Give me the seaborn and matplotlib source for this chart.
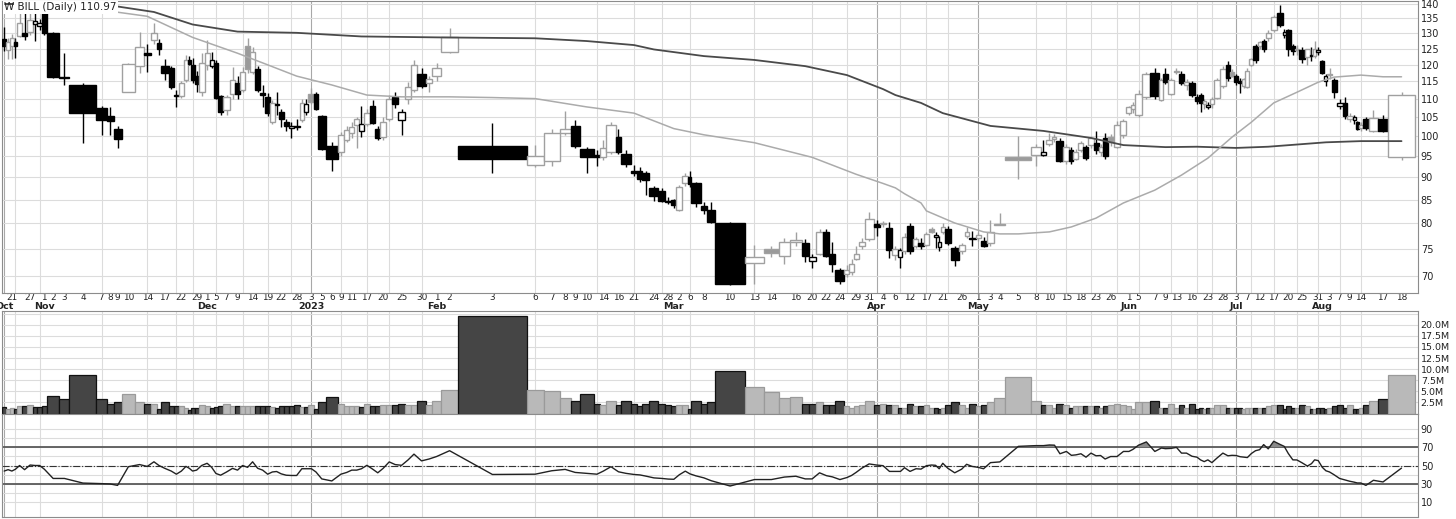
import numpy as np
import pandas as pd
import matplotlib
matplotlib.use("Agg")
import matplotlib.pyplot as plt
from matplotlib.ticker import FixedLocator, NullLocator, FixedFormatter
import seaborn as sns

# trading days on the chart
oct22 = [19, 20, 21, 24, 25, 26, 27, 28, 31]
nov22 = [1, 2, 3, 4, 7, 8, 9, 10, 11, 14, 15, 16, 17, 18, 21, 22, 23, 25, 28, 29, 30]
dec22 = [1, 2, 5, 6, 7, 8, 9, 12, 13, 14, 15, 16, 19, 20, 21, 22, 23, 27, 28, 29, 30]
jan23 = [3, 4, 5, 6, 9, 10, 11, 12, 13, 17, 18, 19, 20, 23, 24, 25, 26, 27, 30, 31]
feb23 = [1, 2, 3, 6, 7, 8, 9, 10, 13, 14, 15, 16, 17, 21, 22, 23, 24, 27, 28]
mar23 = [1, 2, 3, 6, 7, 8, 9, 10, 13, 14, 15, 16, 17, 20, 21, 22, 23, 24, 27, 28, 29, 30, 31]
apr23 = [3, 4, 5, 6, 10, 11, 12, 13, 14, 17, 18, 19, 20, 21, 24, 25, 26, 27, 28]
may23 = [1, 2, 3, 4, 5, 8, 9, 10, 11, 12, 15, 16, 17, 18, 19, 22, 23, 24, 25, 26, 30, 31]
jun23 = [1, 2, 5, 6, 7, 8, 9, 12, 13, 14, 15, 16, 20, 21, 22, 23, 26, 27, 28, 29, 30]
jul23 = [3, 5, 6, 7, 10, 11, 12, 13, 14, 17, 18, 19, 20, 21, 24, 25, 26, 27, 28, 31]
aug23 = [1, 2, 3, 4, 7, 8, 9, 10, 11, 14, 15, 16, 17, 18]

opens = [128.0, 124.5, 125.9, 127.2, 129.0, 130.1, 130.5, 132.9, 132.4, 138.0,
         130.1, 116.2, 113.9, 107.5, 105.3, 101.9, 112.0, 119.5, 123.5, 127.7,
         126.7, 119.6, 118.9, 111.1, 110.8, 115.4, 121.4, 119.9, 116.4, 112.0,
         119.9, 119.6, 120.5, 110.8, 106.9, 111.4, 114.4, 112.5, 125.7, 117.7,
         118.6, 111.6, 110.5, 103.7, 108.3, 106.4, 103.7, 102.0, 102.5, 104.2,
         106.3, 111.3, 111.3, 105.1, 97.6, 96.1, 99.1, 100.8, 102.9, 101.3,
         103.2, 108.0, 101.9, 99.8, 104.5, 110.5, 104.2, 110.0, 112.5, 117.1,
         114.4, 116.4, 123.9, 97.6, 92.8, 93.7, 100.8, 102.6, 96.8, 95.2,
         94.9, 96.1, 99.8, 95.6, 91.5, 91.4, 90.9, 87.5, 86.9, 84.8,
         84.9, 82.9, 88.6, 90.0, 88.6, 83.6, 82.9, 80.0, 72.4, 74.9,
         73.7, 76.4, 76.2, 72.7, 74.1, 78.3, 74.1, 71.0, 70.3, 70.6,
         73.0, 75.6, 76.8, 79.8, 80.1, 79.0, 73.9, 73.5, 74.5, 79.4,
         75.6, 76.2, 75.8, 78.8, 77.2, 75.3, 78.2, 78.8, 75.1, 74.5,
         77.5, 77.0, 77.0, 76.6, 76.2, 79.7, 94.9, 95.3, 95.3, 98.1,
         99.2, 98.8, 93.9, 96.6, 94.4, 96.6, 97.3, 97.7, 98.3, 95.9,
         99.6, 99.8, 97.3, 100.3, 106.1, 107.0, 105.6, 110.5, 117.5, 109.7,
         117.1, 111.3, 117.8, 117.1, 114.0, 114.4, 110.5, 111.1, 108.5, 107.8,
         108.5, 110.2, 113.6, 119.9, 117.7, 116.5, 115.2, 113.5, 113.3, 119.9,
         125.7, 125.8, 127.3, 128.3, 131.0, 136.9, 129.4, 131.0, 125.8, 124.5,
         124.5, 122.3, 123.0, 122.5, 123.8, 121.0, 115.1, 117.2, 115.4, 108.0,
         108.9, 104.5, 104.2, 103.6, 102.0, 104.5, 101.4, 104.3, 94.7]
highs = [132.0, 128.3, 129.7, 128.5, 137.9, 137.9, 137.0, 137.0, 134.6, 140.0,
         130.5, 123.5, 114.5, 108.0, 107.7, 102.6, 120.5, 130.4, 126.4, 133.3,
         128.0, 121.7, 119.5, 112.5, 115.0, 123.0, 122.5, 122.0, 118.0, 123.5,
         127.7, 123.9, 121.5, 111.0, 111.0, 119.3, 116.5, 119.3, 128.3, 125.5,
         119.5, 113.8, 111.5, 109.5, 112.0, 107.0, 104.5, 103.5, 104.5, 109.9,
         110.0, 113.0, 112.0, 105.5, 98.6, 101.0, 102.5, 103.5, 105.0, 108.0,
         107.0, 109.7, 102.5, 105.0, 111.1, 111.8, 107.0, 114.8, 121.4, 119.0,
         116.5, 120.6, 131.8, 103.4, 97.8, 101.9, 106.6, 104.2, 97.3, 96.5,
         99.0, 103.5, 101.9, 96.5, 92.8, 92.3, 91.5, 88.0, 87.5, 85.5,
         85.2, 88.2, 90.9, 91.5, 89.0, 84.4, 84.4, 80.4, 75.8, 75.5,
         77.0, 78.2, 76.8, 74.0, 78.8, 78.8, 76.4, 71.5, 72.0, 73.0,
         75.5, 77.0, 82.3, 80.8, 80.5, 80.2, 75.5, 75.2, 78.0, 80.0,
         77.2, 77.0, 78.3, 79.2, 78.2, 77.5, 80.0, 79.5, 75.6, 76.2,
         79.3, 78.5, 78.2, 77.3, 80.8, 82.2, 100.0, 98.0, 99.1, 100.8,
         100.5, 99.5, 98.0, 97.2, 96.8, 98.8, 97.8, 100.0, 101.3, 98.0,
         100.8, 100.5, 104.0, 104.5, 108.0, 109.0, 112.5, 117.7, 118.8, 116.0,
         119.0, 116.0, 119.0, 118.0, 115.5, 115.2, 111.2, 111.5, 109.8, 109.0,
         110.5, 116.0, 119.5, 121.0, 118.5, 117.2, 116.0, 116.0, 119.0, 122.0,
         126.5, 127.5, 128.0, 131.0, 136.0, 139.8, 131.5, 131.5, 126.5, 126.0,
         125.5, 125.0, 125.5, 127.5, 125.5, 121.5, 117.0, 119.0, 116.0, 110.0,
         110.5, 106.0, 105.5, 104.0, 103.5, 105.0, 106.8, 105.5, 111.9]
lows = [124.3, 121.6, 121.6, 121.9, 128.8, 127.8, 129.5, 127.3, 131.0, 129.5,
        115.8, 113.9, 98.3, 100.3, 100.3, 97.1, 112.0, 117.4, 117.7, 126.5,
        122.9, 115.4, 112.8, 107.6, 110.3, 114.9, 119.8, 114.5, 111.8, 110.8,
        118.3, 118.8, 110.0, 105.6, 105.6, 110.0, 110.0, 112.0, 117.5, 117.0,
        112.0, 107.6, 105.3, 103.0, 105.6, 102.4, 101.4, 99.6, 101.5, 103.5,
        105.5, 108.5, 106.8, 96.5, 91.5, 95.0, 98.5, 99.5, 97.0, 99.8,
        102.5, 103.0, 99.0, 99.0, 104.0, 107.5, 100.3, 108.5, 112.0, 113.0,
        111.8, 115.0, 123.5, 90.9, 92.3, 92.6, 100.3, 97.0, 91.1, 92.6,
        94.0, 95.5, 95.5, 92.5, 90.3, 89.0, 86.1, 84.8, 84.5, 84.0,
        83.2, 82.5, 88.0, 87.8, 83.4, 81.9, 80.0, 68.4, 68.6, 73.5,
        72.1, 75.5, 72.6, 71.4, 73.8, 73.5, 70.6, 68.6, 69.8, 70.2,
        72.8, 75.0, 76.5, 77.4, 79.3, 73.2, 72.8, 71.5, 74.0, 74.0,
        75.2, 75.0, 75.5, 78.0, 75.2, 74.5, 77.8, 75.8, 71.7, 74.0,
        77.0, 75.6, 76.5, 75.3, 75.6, 79.6, 89.5, 92.6, 95.0, 97.5,
        98.5, 93.5, 93.0, 93.0, 94.0, 96.0, 94.0, 97.0, 95.5, 95.0,
        94.2, 97.5, 97.0, 99.5, 105.5, 106.0, 105.0, 110.0, 110.0, 109.3,
        114.3, 111.0, 117.0, 113.8, 112.5, 110.5, 108.5, 106.3, 107.0, 107.0,
        107.5, 110.0, 113.0, 115.2, 116.2, 114.0, 111.5, 113.0, 113.0, 119.5,
        120.5, 124.8, 124.0, 127.5, 130.5, 132.0, 128.5, 122.5, 123.0, 123.0,
        120.5, 119.8, 121.0, 122.0, 123.0, 117.0, 113.5, 115.5, 110.2, 107.0,
        104.5, 103.5, 103.0, 101.5, 101.2, 101.5, 101.0, 101.0, 94.0]
closes = [125.8, 127.0, 128.3, 125.9, 133.3, 128.9, 134.4, 134.0, 133.4, 130.1,
          116.3, 115.8, 106.1, 104.2, 104.0, 99.3, 120.2, 125.5, 123.0, 130.1,
          124.8, 117.4, 113.4, 110.8, 114.4, 121.4, 120.3, 115.4, 114.2, 120.5,
          123.5, 121.4, 110.3, 106.3, 110.5, 115.4, 111.4, 117.7, 118.6, 123.9,
          112.5, 111.1, 106.1, 108.9, 108.6, 104.5, 102.6, 102.5, 102.4, 108.9,
          108.5, 109.0, 107.2, 96.8, 94.4, 100.3, 101.6, 102.4, 104.5, 103.2,
          106.1, 103.4, 99.6, 103.7, 110.0, 108.6, 106.4, 113.3, 119.9, 113.6,
          115.6, 119.0, 128.7, 94.2, 95.1, 100.8, 101.9, 97.6, 94.9, 94.8,
          97.1, 102.9, 96.1, 93.0, 91.0, 89.7, 89.4, 85.7, 84.8, 84.5,
          83.9, 87.8, 90.2, 88.5, 84.2, 82.7, 80.2, 68.6, 73.5, 74.2,
          76.4, 76.7, 73.7, 73.5, 78.3, 73.7, 72.1, 69.1, 71.0, 72.1,
          74.1, 76.4, 81.0, 79.3, 79.8, 74.8, 74.9, 74.7, 77.2, 74.6,
          76.8, 75.6, 77.8, 78.3, 77.7, 76.4, 79.2, 76.2, 72.8, 75.8,
          78.2, 76.8, 77.6, 75.6, 78.2, 79.9, 94.0, 97.3, 96.1, 99.1,
          99.8, 93.7, 97.3, 93.9, 96.1, 98.3, 94.6, 99.5, 96.4, 97.3,
          95.1, 98.4, 102.9, 103.8, 107.7, 108.2, 111.3, 117.1, 110.6, 115.4,
          114.9, 115.4, 118.0, 114.4, 114.8, 111.1, 109.2, 108.9, 109.3, 108.3,
          110.0, 115.4, 118.6, 115.8, 116.5, 114.9, 114.6, 115.5, 118.0, 121.8,
          121.5, 127.0, 124.8, 130.1, 135.4, 132.7, 130.4, 124.8, 124.2, 125.0,
          121.7, 124.9, 122.5, 125.0, 124.6, 117.4, 116.5, 116.7, 112.0, 108.9,
          105.1, 105.3, 105.0, 101.9, 102.8, 102.0, 104.6, 101.4, 110.97]
volume_m = [1.4, 1.1, 1.3, 1.0, 1.6, 1.6, 1.9, 1.4, 1.4, 1.6,
            4.0, 3.2, 8.6, 3.3, 2.2, 2.5, 4.4, 2.7, 2.2, 2.1,
            1.1, 2.5, 1.7, 1.6, 1.6, 1.3, 0.8, 1.3, 1.3, 1.9,
            1.6, 1.3, 1.4, 1.6, 2.2, 1.6, 1.6, 1.6, 1.6, 1.6,
            1.6, 1.6, 1.6, 1.4, 1.3, 1.6, 1.6, 1.6, 1.9, 1.4,
            1.4, 1.9, 1.0, 2.7, 3.7, 2.1, 1.6, 1.6, 1.6, 1.4,
            2.1, 1.6, 1.6, 1.9, 1.9, 1.9, 2.2, 1.9, 1.9, 2.9,
            1.9, 2.9, 5.4, 21.9, 5.4, 5.1, 3.5, 2.9, 4.4, 2.2,
            1.9, 2.9, 1.9, 2.9, 2.2, 1.6, 2.2, 2.9, 2.2, 1.9,
            1.6, 1.9, 1.9, 1.0, 2.9, 2.2, 2.5, 9.5, 6.0, 4.8,
            3.5, 3.8, 2.2, 2.2, 2.5, 1.9, 1.9, 2.9, 1.6, 1.3,
            1.6, 1.9, 2.9, 1.9, 2.2, 1.9, 1.9, 1.3, 1.3, 2.2,
            1.6, 1.6, 1.9, 1.3, 1.3, 1.0, 1.3, 1.9, 2.5, 1.9,
            1.3, 2.2, 1.6, 1.9, 2.5, 3.5, 8.3, 2.9, 1.9, 1.9,
            1.3, 2.2, 1.9, 1.3, 1.6, 1.6, 1.6, 1.6, 1.6, 1.3,
            1.6, 1.9, 2.2, 1.9, 1.6, 1.0, 2.5, 2.5, 2.9, 1.3,
            1.3, 2.2, 1.3, 1.9, 1.3, 2.2, 1.0, 1.3, 1.0, 1.3,
            1.3, 1.9, 1.9, 1.3, 1.3, 1.3, 1.3, 1.0, 1.3, 1.3,
            1.3, 1.3, 1.3, 1.6, 1.9, 1.9, 1.0, 1.6, 1.3, 1.3,
            1.9, 1.6, 1.0, 1.0, 1.3, 1.3, 1.0, 1.3, 1.6, 1.9,
            1.3, 1.9, 1.0, 1.0, 1.3, 1.9, 2.9, 3.2, 8.6]
rsi14 = [44, 45.5, 44, 46, 50, 45.5, 50.5, 50, 50, 46,
         36, 36, 31, 30.4, 30, 28.5, 48.7, 51, 49, 54,
         50, 47, 44, 40.6, 44, 49, 47, 44, 45, 50,
         52.4, 48, 41.4, 39.5, 43, 46.9, 45, 50, 48, 54,
         47, 45, 40.6, 43, 43.5, 41, 39.5, 39.2, 39.2, 46.5,
         46.5, 46.5, 43, 35.5, 33.3, 40.6, 42.5, 45, 45, 46.5,
         50.2, 46, 42.1, 47, 53.9, 51, 50.2, 56, 62.3, 55,
         57, 59.7, 66, 40.3, 40.6, 44.3, 45.8, 42.5, 41.5, 40.6,
         44, 48.7, 43.2, 41.5, 40.3, 39.8, 38.5, 36.6, 36, 35.3,
         35.1, 40, 43.9, 41, 38.8, 36.6, 33.5, 27.8, 34.8, 34.8,
         37.5, 38.4, 35.5, 35.5, 42.1, 39, 37.7, 34.8, 37, 39.2,
         42.5, 46.9, 51.7, 50.5, 49.8, 43.6, 43.6, 43.6, 47.6, 43.6,
         46.5, 46.1, 49.8, 50.5, 50.2, 46.5, 52.4, 47, 42.1, 46,
         51.3, 49, 48, 46.5, 53.1, 53.9, 70.7, 71.5, 71.5, 72.2,
         72, 62.7, 65.2, 61, 61.5, 62.7, 59, 63.4, 60.5, 60.8,
         57, 59.7, 59.7, 65.2, 65.2, 67.5, 72, 75.5, 65.2, 68.9,
         68.2, 68.5, 69.6, 63.4, 63.4, 60, 59, 56, 54.2, 56.1,
         53.1, 58, 63.4, 60.5, 61, 60.8, 59.5, 59, 58.6, 63,
         66, 67.1, 72.6, 68, 76.2, 73, 70.7, 63, 56.1, 56,
         53, 49.4, 52, 56.1, 55.3, 48, 44.3, 43, 40, 36,
         34.5, 33, 32, 31.1, 31.1, 28.5, 34, 32.2, 47.2]

# moving averages, read at a few dates
ma_long_dates = ["2022-11-07", "2022-11-15", "2022-11-28", "2022-12-09", "2022-12-28",
                 "2023-01-13", "2023-02-01", "2023-02-06", "2023-02-10", "2023-02-21",
                 "2023-02-24", "2023-03-08", "2023-03-13", "2023-03-17", "2023-03-27",
                 "2023-04-04", "2023-04-06", "2023-04-14", "2023-04-21", "2023-05-03",
                 "2023-05-09", "2023-05-22", "2023-05-31", "2023-06-09", "2023-06-20",
                 "2023-07-03", "2023-07-14", "2023-08-02", "2023-08-14", "2023-08-18"]
ma_long_vals = [140.0, 137.2, 132.9, 130.5, 130.1, 128.9, 128.6, 128.3, 127.4, 126.1,
                124.7, 122.6, 121.4, 119.5, 116.8, 112.7, 111.0, 108.8, 106.0, 102.6,
                101.3, 99.5, 97.7, 97.2, 97.3, 97.0, 97.3, 98.4, 98.7, 98.7]
ma_short_dates = ["2022-11-07", "2022-11-14", "2022-11-28", "2022-12-09", "2022-12-19",
                  "2022-12-28", "2023-01-06", "2023-01-17", "2023-01-25", "2023-01-31",
                  "2023-02-02", "2023-02-03", "2023-02-06", "2023-02-10", "2023-02-21",
                  "2023-03-01", "2023-03-08", "2023-03-13", "2023-03-20", "2023-03-29",
                  "2023-04-04", "2023-04-06", "2023-04-11", "2023-04-14", "2023-04-17",
                  "2023-04-25", "2023-05-02", "2023-05-04", "2023-05-05", "2023-05-10",
                  "2023-05-16", "2023-05-23", "2023-05-31", "2023-06-07", "2023-06-14",
                  "2023-06-23", "2023-06-30", "2023-07-10", "2023-07-17", "2023-07-24",
                  "2023-07-31", "2023-08-04", "2023-08-14", "2023-08-17", "2023-08-18"]
ma_short_vals = [137.9, 135.7, 128.6, 123.5, 119.9, 116.5, 113.9, 111.0, 110.5, 110.5,
                 110.5, 110.3, 110.0, 107.7, 106.0, 101.9, 100.3, 98.3, 94.7, 90.7,
                 88.6, 87.6, 86.3, 84.3, 82.6, 80.1, 78.3, 77.9, 77.9, 78.3,
                 79.3, 81.1, 84.3, 87.1, 90.5, 94.5, 99.7, 103.6, 108.8, 111.8,
                 114.7, 116.2, 116.8, 116.3, 116.3]

# dates that carry a day label under the price panel
tick_dates = ["2022-10-21", "2022-10-27", "2022-11-01", "2022-11-02", "2022-11-03", "2022-11-04",
              "2022-11-07", "2022-11-08", "2022-11-09", "2022-11-10", "2022-11-14", "2022-11-17",
              "2022-11-22", "2022-11-29", "2022-12-01", "2022-12-05", "2022-12-07", "2022-12-09",
              "2022-12-14", "2022-12-19", "2022-12-22", "2022-12-28", "2023-01-03", "2023-01-05",
              "2023-01-06", "2023-01-09", "2023-01-11", "2023-01-17", "2023-01-20", "2023-01-25",
              "2023-01-30", "2023-02-01", "2023-02-02", "2023-02-03", "2023-02-06", "2023-02-07",
              "2023-02-08", "2023-02-09", "2023-02-10", "2023-02-14", "2023-02-16", "2023-02-21",
              "2023-02-24", "2023-02-28", "2023-03-02", "2023-03-06", "2023-03-08", "2023-03-10",
              "2023-03-13", "2023-03-14", "2023-03-16", "2023-03-20", "2023-03-22", "2023-03-24",
              "2023-03-29", "2023-03-31", "2023-04-04", "2023-04-06", "2023-04-12", "2023-04-17",
              "2023-04-21", "2023-04-26", "2023-05-01", "2023-05-03", "2023-05-04", "2023-05-05",
              "2023-05-08", "2023-05-10", "2023-05-15", "2023-05-18", "2023-05-23", "2023-05-26",
              "2023-06-01", "2023-06-05", "2023-06-07", "2023-06-09", "2023-06-13", "2023-06-16",
              "2023-06-23", "2023-06-28", "2023-07-03", "2023-07-07", "2023-07-12", "2023-07-17",
              "2023-07-20", "2023-07-25", "2023-07-31", "2023-08-03", "2023-08-07", "2023-08-09",
              "2023-08-14", "2023-08-17", "2023-08-18"]
month_names = {10: "Oct", 11: "Nov", 12: "Dec", 1: "2023", 2: "Feb", 3: "Mar",
               4: "Apr", 5: "May", 6: "Jun", 7: "Jul", 8: "Aug"}

# ---- assemble
month_days = [(2022, 10, oct22), (2022, 11, nov22), (2022, 12, dec22), (2023, 1, jan23),
              (2023, 2, feb23), (2023, 3, mar23), (2023, 4, apr23), (2023, 5, may23),
              (2023, 6, jun23), (2023, 7, jul23), (2023, 8, aug23)]
dates = [pd.Timestamp(y, m, d) for y, m, days in month_days for d in days]
df = pd.DataFrame({"date": dates, "open": opens, "high": highs, "low": lows,
                   "close": closes, "volume": volume_m, "rsi": rsi14})

vol = df["volume"].to_numpy()
right_edge = np.cumsum(vol)
df["left"] = right_edge - vol
df["mid"] = df["left"] + vol / 2
total = right_edge[-1]
pos = dict(zip(df["date"], df["mid"]))

prev_close = np.r_[df["open"].iloc[0] + 1, df["close"].to_numpy()[:-1]]
df["up"] = df["close"].to_numpy() > prev_close
df["filled"] = df["close"] < df["open"]

sns.set_theme(style="white")
plt.rcParams["font.family"] = ["DejaVu Sans"]

W, H = 1456, 519
fig = plt.figure(figsize=(W / 100, H / 100), dpi=100)


def px_axes(x0, y0, x1, y1):
    return fig.add_axes([x0 / W, 1 - y1 / H, (x1 - x0) / W, (y1 - y0) / H])


ax_p = px_axes(2, 1, 1418, 293)
ax_v = px_axes(2, 311, 1418, 414)
ax_r = px_axes(2, 414, 1418, 517)
xmax = total * 1416 / 1413

# week / month grid positions
weeks = df["date"].dt.isocalendar().week.to_numpy()
new_week = np.r_[True, weeks[1:] != weeks[:-1]]
months = df["date"].dt.month.to_numpy()
new_month = np.r_[True, months[1:] != months[:-1]]

for ax in (ax_p, ax_v, ax_r):
    ax.set_xlim(0, xmax)
    for x, nm in zip(df["mid"][new_week], new_month[new_week]):
        ax.axvline(x, color="#a8a8a8" if nm else "#dcdcdc", lw=0.8, zorder=0)
    for s in ax.spines.values():
        s.set_color("#8c8c8c")
        s.set_linewidth(0.8)

# ---- price panel
ax_p.set_yscale("log")
ax_p.set_ylim(67.0, 141.1)
price_ticks = list(range(70, 145, 5))
for t in price_ticks:
    ax_p.axhline(t, color="#dcdcdc", lw=0.8, zorder=0)

edge_col = np.where(df["up"], "#a0a0a0", "#000000")
face_col = np.where(df["filled"], np.where(df["up"], "#9a9a9a", "#000000"), "#ffffff")
ax_p.vlines(df["mid"], df["low"], df["high"], colors=edge_col, lw=1.0, zorder=2)
body_lo = np.minimum(df["open"], df["close"])
body_hi = np.maximum(df["open"], df["close"])
ax_p.bar(df["left"], body_hi - body_lo, width=vol, bottom=body_lo, align="edge",
         color=face_col, edgecolor=edge_col, linewidth=1.0, zorder=3)

sns.lineplot(x=[pos[pd.Timestamp(d)] for d in ma_long_dates], y=ma_long_vals, ax=ax_p,
             color="#4a4a4a", lw=1.3, sort=False, zorder=4)
sns.lineplot(x=[pos[pd.Timestamp(d)] for d in ma_short_dates], y=ma_short_vals, ax=ax_p,
             color="#ababab", lw=1.1, sort=False, zorder=4)

ax_p.yaxis.tick_right()
ax_p.yaxis.set_major_locator(FixedLocator(price_ticks))
ax_p.yaxis.set_minor_locator(NullLocator())
ax_p.yaxis.set_major_formatter(FixedFormatter([str(t) for t in price_ticks]))
ax_p.yaxis.set_minor_formatter(FixedFormatter([]))
ax_p.tick_params(axis="y", length=0, pad=2, labelsize=7, colors="#222222")

tick_x = [pos[pd.Timestamp(d)] for d in tick_dates]
ax_p.set_xticks(tick_x)
ax_p.set_xticklabels([str(pd.Timestamp(d).day) for d in tick_dates])
ax_p.tick_params(axis="x", length=0, pad=0.3, labelsize=6.4, colors="#222222")

for x, d in zip(df["mid"][new_month], df["date"][new_month]):
    ax_p.annotate(month_names[d.month], xy=(x, 0), xycoords=("data", "axes fraction"),
                  xytext=(0, -9.6), textcoords="offset points", ha="center", va="center",
                  fontsize=6.8, fontweight="bold", color="#222222", annotation_clip=False)

ax_p.text(0.0015, 0.995, "\u20a9 BILL (Daily) 110.97", transform=ax_p.transAxes,
          ha="left", va="top", fontsize=7.5, color="#222222", zorder=10,
          bbox=dict(facecolor="white", edgecolor="none", pad=0.8))

# ---- volume panel
vol_ticks = [2.5, 5.0, 7.5, 10.0, 12.5, 15.0, 17.5, 20.0]
ax_v.set_ylim(-0.1, 23.1)
for t in vol_ticks + [22.5]:
    ax_v.axhline(t, color="#dcdcdc", lw=0.8, zorder=0)
ax_v.bar(df["left"], vol, width=vol, align="edge",
         color=np.where(df["up"], "#b9b9b9", "#454545"),
         edgecolor=np.where(df["up"], "#9a9a9a", "#111111"), linewidth=0.9, zorder=3)
ax_v.yaxis.tick_right()
ax_v.set_yticks(vol_ticks)
ax_v.set_yticklabels([f"{t:.1f}M" for t in vol_ticks])
ax_v.tick_params(axis="y", length=0, pad=2, labelsize=6.8, colors="#222222")
ax_v.set_xticks([])

# ---- RSI panel
ax_r.set_ylim(-5.7, 105.7)
for t in range(10, 100, 10):
    ax_r.axhline(t, color="#dcdcdc", lw=0.8, zorder=0)
ax_r.axhline(70, color="#5a5a5a", lw=1.3, zorder=2)
ax_r.axhline(30, color="#5a5a5a", lw=1.3, zorder=2)
ax_r.axhline(50, color="#333333", lw=0.8, ls="-.", zorder=2)
rx = df["mid"].to_numpy()
ry = df["rsi"].to_numpy()
ax_r.fill_between(rx, ry, 70, where=ry > 70, interpolate=True, color="#8a8a8a", zorder=3, lw=0)
ax_r.fill_between(rx, ry, 30, where=ry < 30, interpolate=True, color="#8a8a8a", zorder=3, lw=0)
sns.lineplot(x=rx, y=ry, ax=ax_r, color="#222222", lw=1.0, sort=False, zorder=4)
ax_r.yaxis.tick_right()
ax_r.set_yticks([10, 30, 50, 70, 90])
ax_r.set_yticklabels(["10", "30", "50", "70", "90"])
ax_r.tick_params(axis="y", length=0, pad=2, labelsize=7, colors="#222222")
ax_r.set_xticks([])

for ax in (ax_p, ax_v, ax_r):
    ax.set_xlabel("")
    ax.set_ylabel("")

fig.savefig("out.png", dpi=100)
